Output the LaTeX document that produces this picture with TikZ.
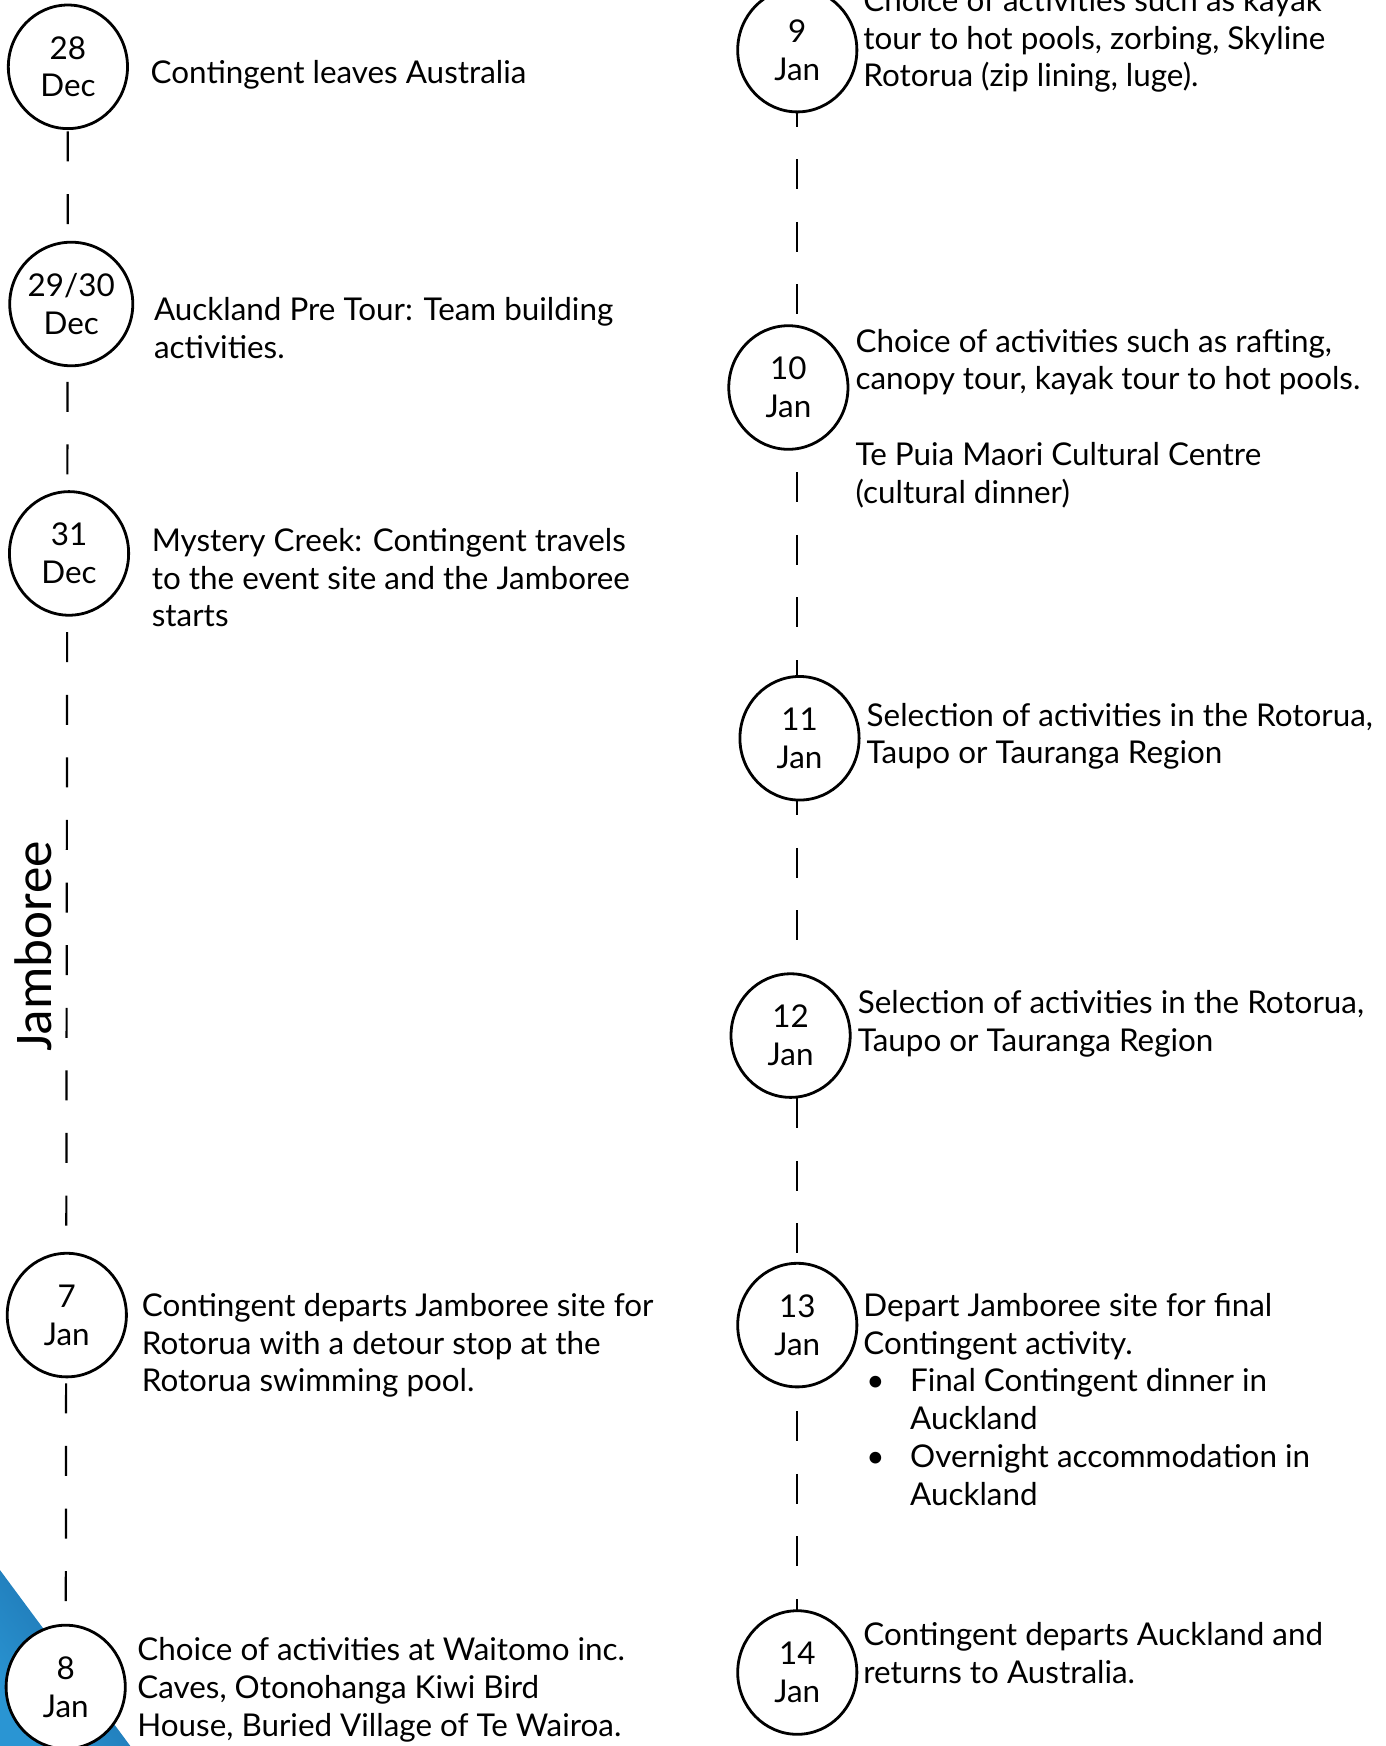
\documentclass[tikz,border=0pt]{standalone}
\usepackage{fontspec}
\setmainfont{Lato}
\newfontfamily\jamfont{Carlito}
\usetikzlibrary{shapes.geometric,backgrounds}
\definecolor{skyblue}{HTML}{2A95D3}
\definecolor{deepblue}{HTML}{1B6DAA}
\newcommand*{\txt}{\fontsize{15.7pt}{18.9pt}\selectfont}
\newcommand*{\bul}{\makebox[23.4pt][l]{\hspace{1.5pt}\textbullet}}

\begin{document}
\begin{tikzpicture}[x=0.5568pt,y=-0.5568pt,
  day/.style={ellipse,draw,line width=1.4pt,fill=white,inner sep=0pt,
    minimum width=59.6pt,minimum height=61.8pt,align=center,font=\txt},
  note/.style={anchor=north west,inner sep=0pt,align=left,font=\txt},
  track/.style={line width=1.1pt,dash pattern=on 15pt off 16.3pt}]
\useasboundingbox (0,0) rectangle (1244,1568);
% Corner wedge
\shade[left color=skyblue,right color=deepblue,shading angle=127]
  (0,1410) -- (0,1572) -- (120,1572) -- cycle;
% Day circles, left column
\node[day] (d28)   at (61,60)   {28\\Dec};
\node[day] (d2930) at (64,273)  {29/30\\Dec};
\node[day] (d31)   at (62,497)  {31\\Dec};
\node[day] (d7)    at (60,1181) {7\\Jan};
\node[day] (d8)    at (59,1515) {8\\Jan};
% Day circles, right column
\node[day] (j9)  at (716,45)   {9\\Jan};
\node[day] (j10) at (708,348)  {10\\Jan};
\node[day] (j11) at (718,663)  {11\\Jan};
\node[day] (j12) at (710,930)  {12\\Jan};
\node[day] (j13) at (716,1190) {13\\Jan};
\node[day] (j14) at (716,1502) {14\\Jan};
%% Dashed tracks behind the circles
\begin{scope}[on background layer]
\draw[track,dash phase=30.3pt] (d28.center) -- (d8.center);
\draw[track,dash phase=8pt] (j9.center) -- (j14.center);
\end{scope}
%% Texts, left column
\node[note] (t28)   at (135,54)   {Contingent leaves Australia};
\node[note] (t2930) at (138,267)  {Auckland Pre Tour: Team building\\activities.};
\node[note] (t31)   at (136,474)  {Mystery Creek: Contingent travels\\to the event site and the Jamboree\\starts};
\node[note] (t7)    at (127,1161) {Contingent departs Jamboree site for\\Rotorua with a detour stop at the\\Rotorua swimming pool.};
\node[note] (t8)    at (123,1470) {Choice of activities at Waitomo inc.\\Caves, Otonohanga Kiwi Bird\\House, Buried Village of Te Wairoa.};
%% Texts, right column
\node[note] (t9)  at (775,-11)  {Choice of activities such as kayak\\tour to hot pools, zorbing, Skyline\\Rotorua (zip lining, luge).};
\node[note] (t10) at (768,295)  {Choice of activities such as rafting,\\canopy tour, kayak tour to hot pools.\\[18.9pt]Te Puia Maori Cultural Centre\\(cultural dinner)};
\node[note] (t11) at (778,631)  {Selection of activities in the Rotorua,\\Taupo or Tauranga Region};
\node[note] (t12) at (770,889)  {Selection of activities in the Rotorua,\\Taupo or Tauranga Region};
\node[note] (t13) at (775,1161) {Depart Jamboree site for final\\Contingent activity.\\\bul Final Contingent dinner in\\\hspace*{23.4pt}Auckland\\\bul Overnight accommodation in\\\hspace*{23.4pt}Auckland};
\node[note] (t14) at (775,1457) {Contingent departs Auckland and\\returns to Australia.};
%% Side label
\node[rotate=90,inner sep=0pt,font=\jamfont\fontsize{26.5pt}{30pt}\selectfont] (jam) at (30,850) {Jamboree};
\end{tikzpicture}
\end{document}
